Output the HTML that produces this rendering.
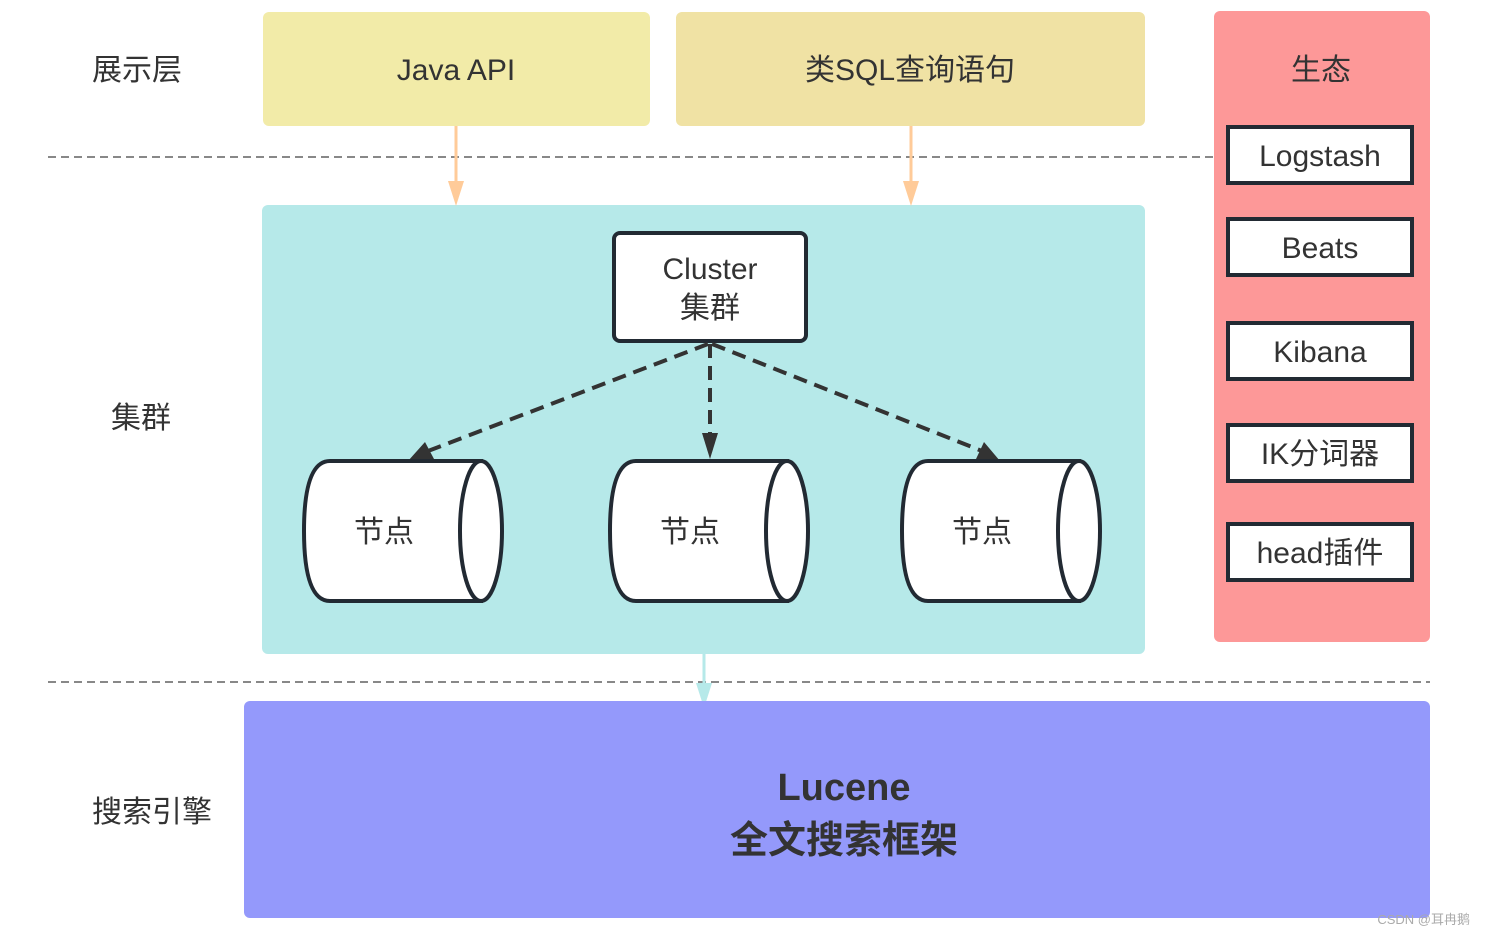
<!DOCTYPE html>
<html><head><meta charset="utf-8"><style>
body{margin:0;background:#fff}
text{font-family:"Liberation Sans","Noto Sans CJK SC",sans-serif;fill:#333}
</style></head><body>
<svg width="1486" height="936" xmlns="http://www.w3.org/2000/svg">
<defs>
<marker id="ao" markerWidth="10" markerHeight="10" refX="5" refY="9" orient="auto-start-reverse" markerUnits="userSpaceOnUse"><path d="M0,0 L10,0 L5,9 z" fill="#ffcb99"/></marker>
</defs>
<rect x="0" y="0" width="1486" height="936" fill="#fff"/>
<line x1="48" y1="157" x2="1215" y2="157" stroke="#888" stroke-width="2" stroke-dasharray="8,5"/>
<line x1="48" y1="682" x2="1430" y2="682" stroke="#888" stroke-width="2" stroke-dasharray="8,5"/>
<rect x="263" y="12" width="387" height="114" rx="6" fill="#f2eba8"/>
<rect x="676" y="12" width="469" height="114" rx="6" fill="#f0e2a4"/>
<text x="456" y="80" font-size="30" text-anchor="middle">Java API</text>
<text x="910" y="80" font-size="30" text-anchor="middle">类SQL查询语句</text>
<rect x="1214" y="11" width="216" height="631" rx="6" fill="#fd9898"/>
<text x="1321" y="80" font-size="30" text-anchor="middle">生态</text>
<g stroke="#222a33" stroke-width="4" fill="#fff">
<rect x="1228" y="127" width="184" height="56"/>
<rect x="1228" y="219" width="184" height="56"/>
<rect x="1228" y="323" width="184" height="56"/>
<rect x="1228" y="425" width="184" height="56"/>
<rect x="1228" y="524" width="184" height="56"/>
</g>
<g font-size="30" text-anchor="middle">
<text x="1320" y="166">Logstash</text>
<text x="1320" y="258">Beats</text>
<text x="1320" y="362">Kibana</text>
<text x="1320" y="464">IK分词器</text>
<text x="1320" y="563">head插件</text>
</g>
<rect x="262" y="205" width="883" height="449" rx="6" fill="#b6e9e9"/>
<line x1="456" y1="126" x2="456" y2="200" stroke="#ffcb99" stroke-width="3"/>
<path d="M448,181 L464,181 L456,206 z" fill="#ffcb99"/>
<line x1="911" y1="126" x2="911" y2="200" stroke="#ffcb99" stroke-width="3"/>
<path d="M903,181 L919,181 L911,206 z" fill="#ffcb99"/>
<line x1="704" y1="654" x2="704" y2="690" stroke="#b6e9e9" stroke-width="3"/>
<path d="M696,683 L712,683 L704,708 z" fill="#b6e9e9"/>
<rect x="244" y="701" width="1186" height="217" rx="6" fill="#9499fb"/>
<text x="844" y="800" font-size="38" font-weight="bold" text-anchor="middle">Lucene</text>
<text x="844" y="853" font-size="38" font-weight="bold" text-anchor="middle">全文搜索框架</text>
<rect x="614" y="233" width="192" height="108" rx="6" fill="#fff" stroke="#222a33" stroke-width="4"/>
<text x="710" y="279" font-size="30" text-anchor="middle">Cluster</text>
<text x="710" y="318" font-size="30" text-anchor="middle">集群</text>
<g stroke="#333" stroke-width="4" stroke-dasharray="14,8" fill="none">
<line x1="708" y1="344" x2="428" y2="451"/>
<line x1="710" y1="344" x2="710" y2="437"/>
<line x1="712" y1="344" x2="982" y2="451"/>
</g>
<path d="M408,461 L425,442 L434,459 z" fill="#333"/>
<path d="M702,433 L718,433 L710,459 z" fill="#333"/>
<path d="M1000,461 L976,459 L984,442 z" fill="#333"/>
<g stroke="#222a33" stroke-width="4" fill="#fff">
<path d="M330,461 L481,461 L481,601 L330,601 Q304,601 304,531 Q304,461 330,461 z"/>
<ellipse cx="481" cy="531" rx="21" ry="70"/>
<path d="M636,461 L787,461 L787,601 L636,601 Q610,601 610,531 Q610,461 636,461 z"/>
<ellipse cx="787" cy="531" rx="21" ry="70"/>
<path d="M928,461 L1079,461 L1079,601 L928,601 Q902,601 902,531 Q902,461 928,461 z"/>
<ellipse cx="1079" cy="531" rx="21" ry="70"/>
</g>
<g font-size="30" text-anchor="middle">
<text x="384" y="542">节点</text>
<text x="690" y="542">节点</text>
<text x="982" y="542">节点</text>
</g>
<g font-size="30">
<text x="92" y="80">展示层</text>
<text x="111" y="428">集群</text>
<text x="92" y="822">搜索引擎</text>
</g>
<text x="1470" y="924" font-size="13" text-anchor="end" fill="#999" style="fill:#aaa">CSDN @耳冉鹅</text>
</svg>
</body></html>
